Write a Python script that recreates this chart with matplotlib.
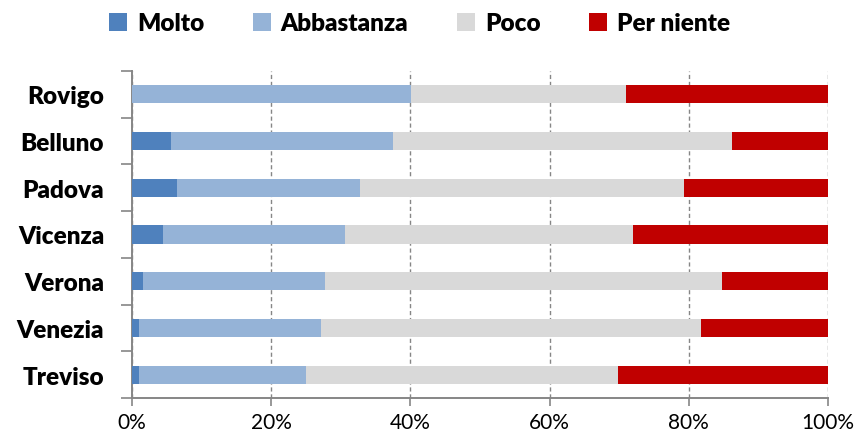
import matplotlib.pyplot as plt
import numpy as np
from matplotlib.ticker import FixedLocator, PercentFormatter

# province, top to bottom in the picture
provinces = ["Rovigo", "Belluno", "Padova", "Vicenza", "Verona", "Venezia", "Treviso"]
series = ["Molto", "Abbastanza", "Poco", "Per niente"]

molto = [0.0, 5.6, 6.4, 4.4, 1.6, 1.0, 1.0]
abbastanza = [40.1, 31.9, 26.4, 26.2, 26.2, 26.2, 24.0]
poco = [30.9, 48.7, 46.5, 41.4, 56.9, 54.6, 44.8]
per_niente = [29.0, 13.8, 20.7, 28.0, 15.3, 18.2, 30.2]

colors = ["#4F81BD", "#95B3D7", "#D9D9D9", "#C00000"]
axis_grey = "#868686"

plt.rcParams['font.family'] = ['Lato', 'DejaVu Sans']

fig = plt.figure(figsize=(8.56, 4.35), dpi=100)
ax = fig.add_axes([132 / 856, 1 - 399 / 435, 696 / 856, 327 / 435])

y = np.arange(len(provinces))[::-1]
left = np.zeros(len(provinces))
for name, vals, c in zip(series, [molto, abbastanza, poco, per_niente], colors):
    vals = np.array(vals)
    ax.barh(y, vals, left=left, height=0.39, color=c, label=name, zorder=3)
    left += vals

ax.set_xlim(0, 100)
ax.set_ylim(-0.5, len(provinces) - 0.5)

ax.set_xticks(np.arange(0, 101, 20))
ax.xaxis.set_major_formatter(PercentFormatter(decimals=0))
ax.xaxis.grid(True, linestyle=(0, (3, 2)), color=axis_grey, linewidth=1, zorder=0)

ax.set_yticks(y)
ax.set_yticklabels(provinces, fontsize=17.5, fontweight='heavy')
ax.yaxis.set_minor_locator(FixedLocator(np.arange(-0.5, len(provinces), 1)))
ax.tick_params(axis='y', which='major', length=0, pad=20)
ax.tick_params(axis='y', which='minor', length=8, color=axis_grey, width=1.2)
ax.tick_params(axis='x', length=6, color=axis_grey, width=1.2, labelsize=15, pad=4)

for s in ['top', 'right']:
    ax.spines[s].set_visible(False)
for s in ['left', 'bottom']:
    ax.spines[s].set_color(axis_grey)
    ax.spines[s].set_linewidth(1.4)

fig.legend(loc='upper center', bbox_to_anchor=(0.49, 1.02), ncol=4, frameon=False,
           prop={'size': 17.5, 'weight': 'heavy'}, handlelength=0.75, handleheight=0.75,
           handletextpad=0.4, columnspacing=2.0)

fig.savefig("out.png", dpi=100)
